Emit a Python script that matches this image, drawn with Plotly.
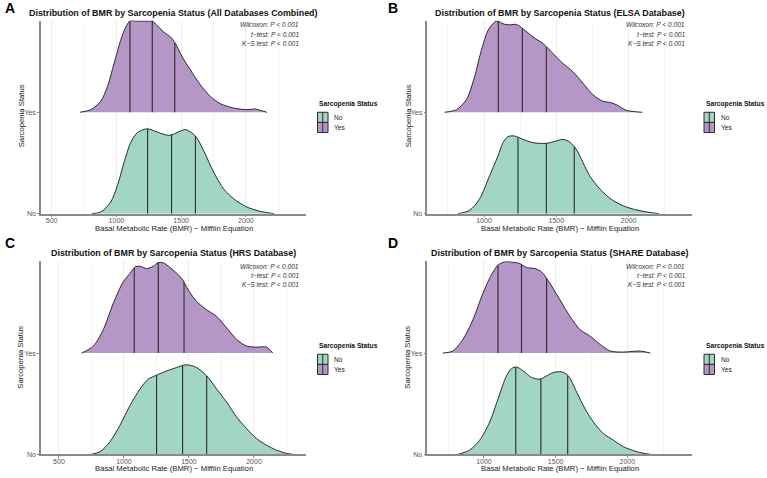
import numpy as np
import plotly.graph_objects as go

W, H = 767, 478

# ---------------- data ----------------
# density heights are in units of the spacing between the two ridges
A_no_x = [810, 879, 956, 1008, 1059, 1110, 1162, 1238, 1315, 1405, 1469, 1533, 1610, 1674, 1751, 1828, 1905, 2008, 2110, 2218]
A_no_h = [0, 0.016, 0.114, 0.277, 0.505, 0.70, 0.80, 0.837, 0.805, 0.772, 0.80, 0.83, 0.766, 0.62, 0.41, 0.244, 0.147, 0.065, 0.023, 0]
A_yes_x = [718, 803, 879, 931, 982, 1033, 1072, 1105, 1162, 1213, 1251, 1277, 1315, 1367, 1418, 1456, 1508, 1572, 1649, 1726, 1803, 1905, 2008, 2072, 2110, 2162]
A_yes_h = [0, 0.026, 0.108, 0.254, 0.482, 0.71, 0.84, 0.90, 0.90, 0.90, 0.90, 0.90, 0.857, 0.79, 0.743, 0.678, 0.547, 0.417, 0.27, 0.156, 0.085, 0.042, 0.026, 0.033, 0.02, 0]
A_no_q = [1241, 1426, 1610]
A_yes_q = [1105, 1277, 1451]

B_no_x = [820, 901, 970, 1039, 1097, 1131, 1166, 1212, 1270, 1339, 1431, 1500, 1546, 1592, 1638, 1684, 1730, 1800, 1892, 1984, 2099, 2210]
B_no_h = [0, 0.033, 0.147, 0.375, 0.57, 0.70, 0.76, 0.766, 0.733, 0.70, 0.694, 0.717, 0.733, 0.707, 0.635, 0.505, 0.375, 0.244, 0.13, 0.065, 0.023, 0]
B_yes_x = [728, 809, 878, 935, 982, 1028, 1074, 1097, 1131, 1177, 1223, 1270, 1339, 1408, 1477, 1546, 1615, 1684, 1753, 1823, 1869, 1915, 1984, 2094]
B_yes_h = [0, 0.026, 0.124, 0.352, 0.613, 0.808, 0.89, 0.90, 0.873, 0.863, 0.867, 0.824, 0.743, 0.678, 0.58, 0.482, 0.40, 0.287, 0.173, 0.108, 0.098, 0.075, 0.02, 0]
B_no_q = [1235, 1431, 1624]
B_yes_q = [1099, 1265, 1431]

C_no_x = [746, 815, 892, 969, 1046, 1123, 1187, 1251, 1328, 1405, 1456, 1495, 1559, 1636, 1713, 1790, 1867, 1944, 2020, 2097, 2174, 2251, 2303]
C_no_h = [0, 0.026, 0.124, 0.287, 0.482, 0.645, 0.743, 0.782, 0.824, 0.857, 0.88, 0.883, 0.857, 0.776, 0.645, 0.515, 0.368, 0.254, 0.156, 0.091, 0.042, 0.01, 0]
C_yes_x = [674, 764, 841, 918, 995, 1046, 1085, 1123, 1174, 1226, 1264, 1303, 1379, 1444, 1495, 1559, 1636, 1713, 1790, 1867, 1944, 2020, 2097, 2144]
C_yes_h = [0, 0.068, 0.231, 0.492, 0.704, 0.785, 0.85, 0.857, 0.834, 0.857, 0.893, 0.89, 0.818, 0.736, 0.622, 0.508, 0.427, 0.362, 0.248, 0.134, 0.068, 0.059, 0.059, 0]
C_no_q = [1251, 1451, 1636]
C_yes_q = [1079, 1264, 1462]

D_no_x = [818, 900, 970, 1040, 1098, 1157, 1192, 1227, 1273, 1332, 1390, 1437, 1484, 1542, 1589, 1647, 1705, 1764, 1834, 1904, 1974, 2068, 2161]
D_no_h = [0, 0.042, 0.14, 0.319, 0.547, 0.775, 0.847, 0.863, 0.824, 0.759, 0.743, 0.775, 0.808, 0.815, 0.775, 0.613, 0.45, 0.319, 0.205, 0.14, 0.075, 0.026, 0]
D_yes_x = [713, 783, 853, 923, 993, 1051, 1098, 1145, 1203, 1250, 1297, 1355, 1402, 1460, 1530, 1600, 1670, 1741, 1811, 1881, 1974, 2090, 2161]
D_yes_h = [0, 0.02, 0.134, 0.329, 0.59, 0.769, 0.867, 0.90, 0.896, 0.883, 0.844, 0.834, 0.80, 0.688, 0.525, 0.362, 0.231, 0.166, 0.085, 0.02, 0.01, 0.02, 0]
D_no_q = [1222, 1397, 1584]
D_yes_q = [1098, 1262, 1437]

categories = ["No", "Yes"]
x_ticks = [500, 1000, 1500, 2000]
stats_lines = ["Wilcoxon: P < 0.001", "t−test: P < 0.001", "K−S test: P < 0.001"]
titles = [
    "Distribution of BMR by Sarcopenia Status (All Databases Combined)",
    "Distribution of BMR by Sarcopenia Status (ELSA Database)",
    "Distribution of BMR by Sarcopenia Status (HRS Database)",
    "Distribution of BMR by Sarcopenia Status (SHARE Database)",
]
letters = ["A", "B", "C", "D"]
x_title = "Basal Metabolic Rate (BMR) − Mifflin Equation"
y_title = "Sarcopenia Status"
legend_title = "Sarcopenia Status"

# ---------------- styling / layout ----------------
GREEN = "#A2D5C2"
PURPLE = "#B497C6"
OUT = "#2b2b2b"
FONT = "Liberation Sans, Arial, sans-serif"

panels = [
    dict(no=(A_no_x, A_no_h, A_no_q), yes=(A_yes_x, A_yes_h, A_yes_q),
         px=(41, 306), py=(20.7, 215), xr=(418, 2464)),
    dict(no=(B_no_x, B_no_h, B_no_q), yes=(B_yes_x, B_yes_h, B_yes_q),
         px=(427.3, 692), py=(20.7, 215), xr=(608, 2438)),
    dict(no=(C_no_x, C_no_h, C_no_q), yes=(C_yes_x, C_yes_h, C_yes_q),
         px=(41, 306), py=(263, 457.3), xr=(362, 2400)),
    dict(no=(D_no_x, D_no_h, D_no_q), yes=(D_yes_x, D_yes_h, D_yes_q),
         px=(427.3, 692.3), py=(263, 457.3), xr=(605, 2453)),
]

def fx(p):
    return p / W

def fy(p):
    return 1 - p / H

fig = go.Figure()
layout = dict(
    width=W, height=H, margin=dict(l=0, r=0, t=0, b=0),
    paper_bgcolor="white", plot_bgcolor="white", showlegend=False,
    font=dict(family=FONT, color="#222"),
)
annotations = []
shapes = []

for i, p in enumerate(panels):
    n = i + 1
    xa = "x" if n == 1 else f"x{n}"
    ya = "y" if n == 1 else f"y{n}"
    xkey = "xaxis" if n == 1 else f"xaxis{n}"
    ykey = "yaxis" if n == 1 else f"yaxis{n}"
    layout[xkey] = dict(
        domain=[fx(p["px"][0]), fx(p["px"][1])], range=list(p["xr"]), anchor=ya,
        tickvals=x_ticks, ticks="outside", ticklen=2, tickcolor="#888", tickwidth=1,
        ticklabelstandoff=-3,
        tickfont=dict(size=7, color="#555"), showgrid=True, gridcolor="#ECECEC", gridwidth=1,
        minor=dict(dtick=250, tick0=0, showgrid=True, gridcolor="#F3F3F3", gridwidth=0.7, ticks=""),
        showline=True, linecolor="#8a8a8a", linewidth=1.5, zeroline=False, fixedrange=True,
    )
    layout[ykey] = dict(
        domain=[fy(p["py"][1]), fy(p["py"][0])], range=[0, 1.905], anchor=xa,
        tickvals=[0, 1], ticktext=categories, ticks="outside", ticklen=2, tickcolor="#888",
        tickfont=dict(size=7, color="#555"), showgrid=False, zeroline=False,
        showline=True, linecolor="#8a8a8a", linewidth=1.5, fixedrange=True,
    )
    for base, key, col in [(0, "no", GREEN), (1, "yes", PURPLE)]:
        xs, hs, qs = p[key]
        xs = np.array(xs, float)
        ys = base + np.array(hs, float)
        fig.add_trace(go.Scatter(x=xs, y=ys, mode="lines", fill="toself", fillcolor=col,
                                 line=dict(width=0, shape="spline", smoothing=0.8),
                                 xaxis=xa, yaxis=ya, hoverinfo="skip"))
        for q in qs:
            top = float(np.interp(q, xs, ys))
            fig.add_trace(go.Scatter(x=[q, q], y=[base, top], mode="lines",
                                     line=dict(color=OUT, width=1.1),
                                     xaxis=xa, yaxis=ya, hoverinfo="skip"))
        fig.add_trace(go.Scatter(x=xs, y=ys, mode="lines",
                                 line=dict(color=OUT, width=1, shape="spline", smoothing=0.8),
                                 xaxis=xa, yaxis=ya, hoverinfo="skip"))

    cx = (p["px"][0] + p["px"][1]) / 2
    top_y = 12.7 if i < 2 else 254.7
    # panel title
    annotations.append(dict(text=f"<b>{titles[i]}</b>", x=fx(cx), y=fy(top_y), xref="paper", yref="paper",
                            showarrow=False, xanchor="center", yanchor="middle",
                            font=dict(size=8.9, color="#111", family=FONT)))
    # letter
    lx = 3 if i % 2 == 0 else 386
    ly = 8.5 if i < 2 else 245
    annotations.append(dict(text=f"<b>{letters[i]}</b>", x=fx(lx), y=fy(ly), xref="paper", yref="paper",
                            showarrow=False, xanchor="left", yanchor="middle",
                            font=dict(size=14, color="#000", family=FONT)))
    # stats text
    sy0 = 25 if i < 2 else 267.7
    sx = 301 if i % 2 == 0 else 687
    for k, s in enumerate(stats_lines):
        annotations.append(dict(text=f"<i>{s}</i>", x=fx(sx), y=fy(sy0 + k * 9.3), xref="paper", yref="paper",
                                showarrow=False, xanchor="right", yanchor="middle",
                                font=dict(size=6.6, color="#333", family=FONT)))
    # axis titles
    xt_y = 229.5 if i < 2 else 471.5
    annotations.append(dict(text=x_title, x=fx(cx), y=fy(xt_y), xref="paper", yref="paper",
                            showarrow=False, xanchor="center", yanchor="middle",
                            font=dict(size=7.7, color="#222", family=FONT)))
    yt_x = 21 if i % 2 == 0 else 408
    yt_y = 117 if i < 2 else 360
    annotations.append(dict(text=y_title, x=fx(yt_x), y=fy(yt_y), xref="paper", yref="paper",
                            showarrow=False, xanchor="center", yanchor="middle", textangle=-90,
                            font=dict(size=7.7, color="#222", family=FONT)))
    # legend
    gx = 317 if i % 2 == 0 else 703.5
    gy = 105 if i < 2 else 348.5
    annotations.append(dict(text=f"<b>{legend_title}</b>", x=fx(gx), y=fy(gy), xref="paper", yref="paper",
                            showarrow=False, xanchor="left", yanchor="middle",
                            font=dict(size=6.7, color="#111", family=FONT)))
    ky = gy + 8
    for k, (lab, col) in enumerate([("No", GREEN), ("Yes", PURPLE)]):
        y0 = ky + k * 10.2
        y1 = y0 + 10.2
        shapes.append(dict(type="rect", xref="paper", yref="paper", x0=fx(gx + 0.5), x1=fx(gx + 11),
                           y0=fy(y1), y1=fy(y0), fillcolor=col, line=dict(color=OUT, width=1)))
        shapes.append(dict(type="line", xref="paper", yref="paper", x0=fx(gx + 5.75), x1=fx(gx + 5.75),
                           y0=fy(y1), y1=fy(y0), line=dict(color=OUT, width=1)))
        annotations.append(dict(text=lab, x=fx(gx + 15), y=fy((y0 + y1) / 2), xref="paper", yref="paper",
                                showarrow=False, xanchor="left", yanchor="middle",
                                font=dict(size=6.6, color="#222", family=FONT)))

layout["annotations"] = annotations
layout["shapes"] = shapes
fig.update_layout(**layout)
fig.write_html("out.html")
